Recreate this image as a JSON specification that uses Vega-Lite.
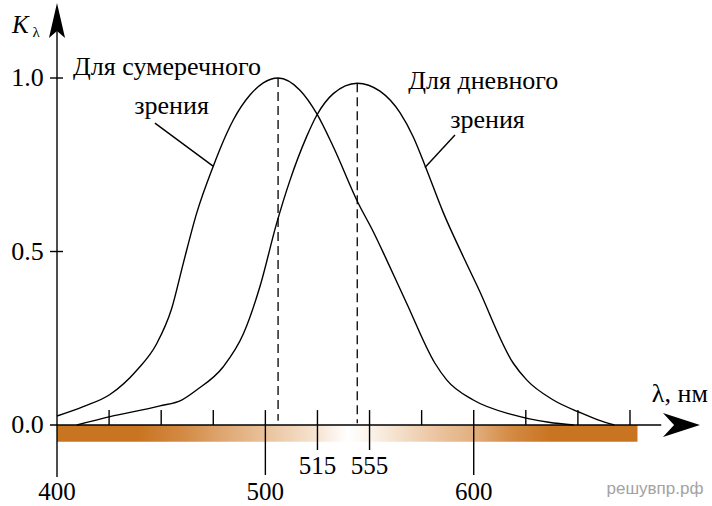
{
  "$schema": "https://vega.github.io/schema/vega-lite/v6.json",
  "width": 712,
  "height": 506,
  "autosize": {"type": "fit", "contains": "padding"},
  "padding": 0,
  "background": "white",
  "config": {"view": {"stroke": null}, "text": {"font": "Liberation Serif", "color": "black"}},
  "datasets": {
    "curves": [
      {"series": "scotopic", "p": 400.0, "K": 0.026},
      {"series": "scotopic", "p": 412.6, "K": 0.053},
      {"series": "scotopic", "p": 425.4, "K": 0.088},
      {"series": "scotopic", "p": 438.3, "K": 0.158},
      {"series": "scotopic", "p": 447.9, "K": 0.235},
      {"series": "scotopic", "p": 455.0, "K": 0.335},
      {"series": "scotopic", "p": 460.6, "K": 0.466},
      {"series": "scotopic", "p": 467.0, "K": 0.610},
      {"series": "scotopic", "p": 475.0, "K": 0.746},
      {"series": "scotopic", "p": 478.2, "K": 0.795},
      {"series": "scotopic", "p": 484.6, "K": 0.879},
      {"series": "scotopic", "p": 492.6, "K": 0.951},
      {"series": "scotopic", "p": 499.0, "K": 0.986},
      {"series": "scotopic", "p": 506.1, "K": 1.0},
      {"series": "scotopic", "p": 516.6, "K": 0.965},
      {"series": "scotopic", "p": 524.6, "K": 0.898},
      {"series": "scotopic", "p": 532.6, "K": 0.802},
      {"series": "scotopic", "p": 544.6, "K": 0.639},
      {"series": "scotopic", "p": 551.8, "K": 0.557},
      {"series": "scotopic", "p": 558.2, "K": 0.476},
      {"series": "scotopic", "p": 567.8, "K": 0.351},
      {"series": "scotopic", "p": 581.4, "K": 0.178},
      {"series": "scotopic", "p": 587.0, "K": 0.130},
      {"series": "scotopic", "p": 599.8, "K": 0.072},
      {"series": "scotopic", "p": 619.0, "K": 0.029},
      {"series": "scotopic", "p": 636.0, "K": 0.008},
      {"series": "scotopic", "p": 648.0, "K": 0.0},
      {"series": "photopic", "p": 409.5, "K": 0.0},
      {"series": "photopic", "p": 425.4, "K": 0.024},
      {"series": "photopic", "p": 449.4, "K": 0.055},
      {"series": "photopic", "p": 459.8, "K": 0.072},
      {"series": "photopic", "p": 467.0, "K": 0.101},
      {"series": "photopic", "p": 479.8, "K": 0.168},
      {"series": "photopic", "p": 489.4, "K": 0.262},
      {"series": "photopic", "p": 497.4, "K": 0.399},
      {"series": "photopic", "p": 505.4, "K": 0.581},
      {"series": "photopic", "p": 511.8, "K": 0.705},
      {"series": "photopic", "p": 519.8, "K": 0.831},
      {"series": "photopic", "p": 524.6, "K": 0.892},
      {"series": "photopic", "p": 532.6, "K": 0.955},
      {"series": "photopic", "p": 544.1, "K": 0.985},
      {"series": "photopic", "p": 555.0, "K": 0.962},
      {"series": "photopic", "p": 564.6, "K": 0.900},
      {"series": "photopic", "p": 571.0, "K": 0.830},
      {"series": "photopic", "p": 576.6, "K": 0.748},
      {"series": "photopic", "p": 585.4, "K": 0.612},
      {"series": "photopic", "p": 595.0, "K": 0.485},
      {"series": "photopic", "p": 601.8, "K": 0.399},
      {"series": "photopic", "p": 619.0, "K": 0.178},
      {"series": "photopic", "p": 625.4, "K": 0.130},
      {"series": "photopic", "p": 638.2, "K": 0.072},
      {"series": "photopic", "p": 651.0, "K": 0.036},
      {"series": "photopic", "p": 660.0, "K": 0.014},
      {"series": "photopic", "p": 667.5, "K": 0.0}
    ],
    "segments": [
      {"name": "y axis", "p": 400, "K": -0.15, "p2": 400, "K2": 1.14},
      {"name": "x axis", "p": 396.64, "K": 0, "p2": 690, "K2": 0},
      {"name": "ytick 1.0", "p": 396.64, "K": 1, "p2": 402.88, "K2": 1},
      {"name": "ytick 0.5", "p": 396.64, "K": 0.5, "p2": 402.88, "K2": 0.5},
      {"name": "tick", "p": 425, "K": 0, "p2": 425, "K2": 0.043},
      {"name": "tick", "p": 450, "K": 0, "p2": 450, "K2": 0.043},
      {"name": "tick", "p": 475, "K": 0, "p2": 475, "K2": 0.043},
      {"name": "tick 500", "p": 500, "K": -0.144, "p2": 500, "K2": 0.043},
      {"name": "tick 515", "p": 525, "K": -0.072, "p2": 525, "K2": 0.043},
      {"name": "tick 555", "p": 550, "K": -0.072, "p2": 550, "K2": 0.043},
      {"name": "tick", "p": 575, "K": 0, "p2": 575, "K2": 0.043},
      {"name": "tick 600", "p": 600, "K": -0.144, "p2": 600, "K2": 0.043},
      {"name": "tick", "p": 625, "K": 0, "p2": 625, "K2": 0.043},
      {"name": "tick", "p": 650, "K": 0, "p2": 650, "K2": 0.043},
      {"name": "tick", "p": 675, "K": 0, "p2": 675, "K2": 0.043},
      {"name": "leader scotopic", "p": 474.9, "K": 0.746, "p2": 447.0, "K2": 0.870},
      {"name": "leader photopic", "p": 576.6, "K": 0.742, "p2": 591.0, "K2": 0.836}
    ],
    "dashes": [
      {"p": 506.1, "K": 1.0, "p2": 506.1, "K2": 0.012},
      {"p": 544.1, "K": 0.985, "p2": 544.1, "K2": 0.005}
    ],
    "band": [{"p": 400, "K": 0, "p2": 678.6, "K2": -0.048}],
    "yarrow": [{"p": 400, "K": 1.1657}],
    "xarrow": [{"p": 699.7, "K": 0}],
    "numCenter": [
      {"p": 400, "K": -0.193, "text": "400"},
      {"p": 500, "K": -0.193, "text": "500"},
      {"p": 600, "K": -0.193, "text": "600"},
      {"p": 525, "K": -0.118, "text": "515"},
      {"p": 550, "K": -0.118, "text": "555"}
    ],
    "numRight": [
      {"p": 393.6, "K": 1.0, "text": "1.0"},
      {"p": 393.6, "K": 0.5, "text": "0.5"},
      {"p": 393.6, "K": 0.0, "text": "0.0"}
    ],
    "annLeft": [
      {"p": 407.7, "K": 1.0086, "text": "Для сумеречного"},
      {"p": 568.6, "K": 0.9683, "text": "Для дневного"},
      {"p": 685.5, "K": 0.0663, "text": "λ, нм"}
    ],
    "annCenter": [
      {"p": 455.0, "K": 0.8963, "text": "зрения"},
      {"p": 606.6, "K": 0.8559, "text": "зрения"}
    ],
    "kLabel": [{"p": 378.4, "K": 1.1297, "text": "K"}],
    "kSub": [{"p": 388.2, "K": 1.1182, "text": "λ"}],
    "watermark": [{"p": 687.0, "K": -0.184, "text": "решувпр.рф"}]
  },
  "encoding": {
    "x": {"field": "p", "type": "quantitative", "scale": {"domain": [372.64, 714.36], "nice": false, "zero": false}, "axis": null},
    "y": {"field": "K", "type": "quantitative", "scale": {"domain": [-0.2334, 1.2248], "nice": false, "zero": false}, "axis": null}
  },
  "layer": [
    {
      "data": {"name": "band"},
      "mark": {
        "type": "rect",
        "color": {
          "gradient": "linear", "x1": 0, "y1": 0, "x2": 1, "y2": 0,
          "stops": [
            {"offset": 0, "color": "#c97421"},
            {"offset": 0.14, "color": "#c97421"},
            {"offset": 0.22, "color": "#d48b46"},
            {"offset": 0.29, "color": "#dfa874"},
            {"offset": 0.36, "color": "#e9c39d"},
            {"offset": 0.45, "color": "#f6e5d4"},
            {"offset": 0.5, "color": "#ffffff"},
            {"offset": 0.55, "color": "#faefe4"},
            {"offset": 0.65, "color": "#ebc6a2"},
            {"offset": 0.72, "color": "#e2ae7d"},
            {"offset": 0.78, "color": "#d48b45"},
            {"offset": 0.85, "color": "#c97421"},
            {"offset": 1, "color": "#c97421"}
          ]
        }
      },
      "encoding": {"x2": {"field": "p2"}, "y2": {"field": "K2"}}
    },
    {
      "data": {"name": "segments"},
      "mark": {"type": "rule", "color": "black", "strokeWidth": 1.4},
      "encoding": {"x2": {"field": "p2"}, "y2": {"field": "K2"}}
    },
    {
      "data": {"name": "dashes"},
      "mark": {"type": "rule", "color": "black", "strokeWidth": 1.3, "strokeDash": [9, 5]},
      "encoding": {"x2": {"field": "p2"}, "y2": {"field": "K2"}}
    },
    {
      "data": {"name": "curves"},
      "mark": {"type": "line", "color": "black", "strokeWidth": 1.4, "interpolate": "monotone"},
      "encoding": {"detail": {"field": "series", "type": "nominal"}}
    },
    {
      "data": {"name": "yarrow"},
      "mark": {"type": "point", "shape": "M0,-1L0.46,1L0,0.6L-0.46,1Z", "size": 1225, "filled": true, "color": "black", "opacity": 1, "strokeWidth": 0},
      "encoding": {}
    },
    {
      "data": {"name": "xarrow"},
      "mark": {"type": "point", "shape": "M1,0L-1,-0.65L-0.4,0L-1,0.65Z", "size": 1369, "filled": true, "color": "black", "opacity": 1, "strokeWidth": 0},
      "encoding": {}
    },
    {
      "data": {"name": "numCenter"},
      "mark": {"type": "text", "font": "Liberation Serif", "fontSize": 25, "align": "center", "baseline": "middle", "color": "black"},
      "encoding": {"text": {"field": "text"}}
    },
    {
      "data": {"name": "numRight"},
      "mark": {"type": "text", "font": "Liberation Serif", "fontSize": 26, "align": "right", "baseline": "middle", "color": "black"},
      "encoding": {"text": {"field": "text"}}
    },
    {
      "data": {"name": "annLeft"},
      "mark": {"type": "text", "font": "Liberation Serif", "fontSize": 26, "align": "left", "baseline": "alphabetic", "color": "black"},
      "encoding": {"text": {"field": "text"}}
    },
    {
      "data": {"name": "annCenter"},
      "mark": {"type": "text", "font": "Liberation Serif", "fontSize": 26, "align": "center", "baseline": "alphabetic", "color": "black"},
      "encoding": {"text": {"field": "text"}}
    },
    {
      "data": {"name": "kLabel"},
      "mark": {"type": "text", "font": "Liberation Serif", "fontSize": 25, "fontStyle": "italic", "align": "left", "baseline": "alphabetic", "color": "black"},
      "encoding": {"text": {"field": "text"}}
    },
    {
      "data": {"name": "kSub"},
      "mark": {"type": "text", "font": "Liberation Serif", "fontSize": 15, "align": "left", "baseline": "alphabetic", "color": "black"},
      "encoding": {"text": {"field": "text"}}
    },
    {
      "data": {"name": "watermark"},
      "mark": {"type": "text", "font": "Liberation Sans", "fontSize": 17, "align": "center", "baseline": "middle", "color": "#a3a3a3"},
      "encoding": {"text": {"field": "text"}}
    }
  ]
}
